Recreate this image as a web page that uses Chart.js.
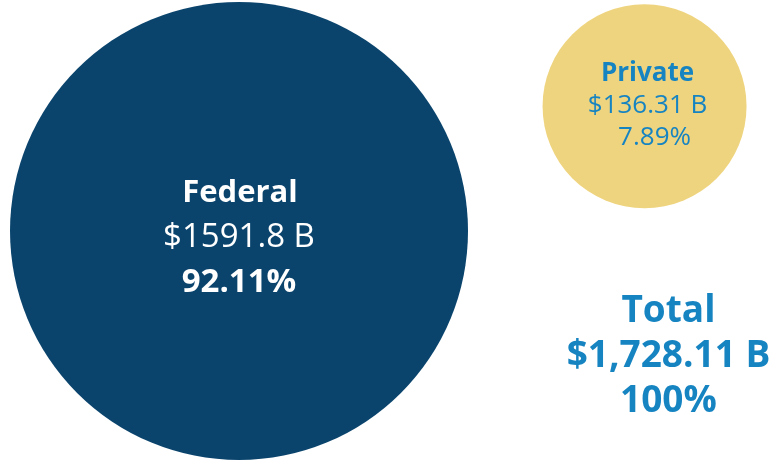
<!DOCTYPE html>
<html>
<head>
<meta charset="utf-8">
<script src="https://cdn.jsdelivr.net/npm/chart.js@4"></script>
<style>
  html, body { margin: 0; padding: 0; background: #fff; }
  #c { display: block; }
</style>
</head>
<body>
<canvas id="c" width="771" height="462"></canvas>
<script>
const categories = ['Federal', 'Private'];
const amounts = ['$1591.8 B', '$136.31 B'];
const shares = ['92.11%', '7.89%'];
const totalLines = ['Total', '$1,728.11 B', '100%'];

// layout (percent of the hidden scales) and bubble radii in px
const centerX = [31.0, 83.6];
const centerY = [50.0, 77.0];
const radii = [229, 102];
const fills = ['#0a446d', '#efd47f'];

const textPlugin = {
  id: 'bubbleText',
  afterDatasetsDraw(chart) {
    const ctx = chart.ctx;
    const meta = chart.getDatasetMeta(0);
    ctx.save();
    ctx.textAlign = 'center';
    ctx.textBaseline = 'middle';

    // Federal
    let p = meta.data[0];
    ctx.fillStyle = '#ffffff';
    ctx.font = 'bold 31px "Open Sans"';
    ctx.fillText(categories[0], p.x + 1, p.y - 38);
    ctx.font = '33px "Open Sans"';
    ctx.fillText(amounts[0], p.x, p.y + 7);
    ctx.font = 'bold 33px "Open Sans"';
    ctx.fillText(shares[0], p.x, p.y + 52);

    // Private
    p = meta.data[1];
    ctx.fillStyle = '#1784c2';
    ctx.font = 'bold 26px "Open Sans"';
    ctx.fillText(categories[1], p.x + 3, p.y - 33);
    ctx.font = '26px "Open Sans"';
    ctx.fillText(amounts[1], p.x + 3, p.y - 1);
    ctx.fillText(shares[1], p.x + 10, p.y + 31);

    // Total
    const xs = chart.scales.x, ys = chart.scales.y;
    const tx = xs.getPixelForValue(86.7);
    const ty = ys.getPixelForValue(22.8);
    ctx.fillStyle = '#1784c2';
    ctx.font = 'bold 37px "Open Sans"';
    totalLines.forEach((t, i) => ctx.fillText(t, tx, ty + (i - 1) * 45));
    ctx.restore();
  }
};

new Chart(document.getElementById('c').getContext('2d'), {
  type: 'bubble',
  data: {
    labels: categories,
    datasets: [{
      data: categories.map((c, i) => ({ x: centerX[i], y: centerY[i], r: radii[i] })),
      backgroundColor: fills,
      hoverBackgroundColor: fills,
      borderWidth: 0,
      hoverBorderWidth: 0,
      clip: false
    }]
  },
  options: {
    responsive: false,
    maintainAspectRatio: false,
    animation: false,
    devicePixelRatio: 1,
    layout: { padding: 0, autoPadding: false },
    events: [],
    plugins: { legend: { display: false }, tooltip: { enabled: false } },
    scales: {
      x: { type: 'linear', min: 0, max: 100, display: false },
      y: { type: 'linear', min: 0, max: 100, display: false }
    }
  },
  plugins: [textPlugin]
});
</script>
</body>
</html>
